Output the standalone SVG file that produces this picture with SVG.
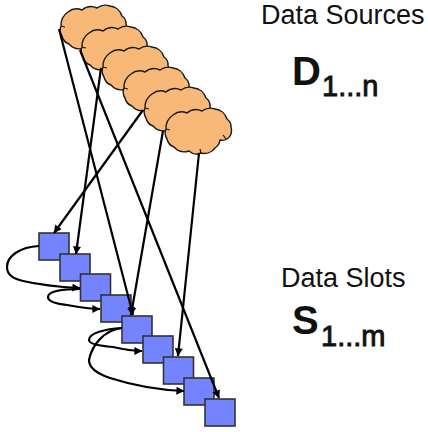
<svg xmlns="http://www.w3.org/2000/svg" width="428" height="432" viewBox="0 0 428 432">
<style>
.cloud{fill:#F8B878;stroke:#1a1a1a;stroke-width:1.4;stroke-linejoin:round}
.tick{fill:none;stroke:#1a1a1a;stroke-width:1.2}
.slot{fill:#7484FF;stroke:#333;stroke-width:1.6}
.c{fill:none;stroke:#000;stroke-width:2.2;marker-end:url(#a)}
text{font-family:"Liberation Sans",Arial,sans-serif;fill:#111}
.lab{font-size:27px}
.big{font-size:40px;font-weight:bold}
.sub{font-size:29px;stroke:#111;stroke-width:.9}
</style>
<defs>
<marker id="a" viewBox="0 0 10 10" refX="9.5" refY="5" markerWidth="9" markerHeight="8" markerUnits="userSpaceOnUse" orient="auto"><path d="M0 0L10 5L0 10Z" fill="#000"/></marker>
<g id="cl">
<path class="cloud" d="M1 21A16 16 0 0 1 8 7A14 14 0 0 1 22 5A14 14 0 0 1 37 3A14 14 0 0 1 50 1A14 14 0 0 1 62 11A9 9 0 0 1 66 19A10 10 0 0 1 62 31A9 9 0 0 1 55 32A11 11 0 0 1 50 40A13 13 0 0 1 36 45A11 11 0 0 1 24 43A14 14 0 0 1 9 39A11 11 0 0 1 2 31A11 11 0 0 1 1 21Z"/>
<path class="tick" d="M1 21L5 22M61 31L58 27M36 45L35 41"/>
</g>
<rect id="sq" width="30" height="27"/>
</defs>
<g id="cloud1"><use href="#cl" x="60" y="5"/></g>
<g id="cloud2"><use href="#cl" x="81" y="26"/></g>
<g id="cloud3"><use href="#cl" x="102" y="46"/></g>
<g id="cloud4"><use href="#cl" x="123" y="67"/></g>
<g id="cloud5"><use href="#cl" x="144" y="87"/></g>
<g id="cloud6"><use href="#cl" x="165" y="108"/></g>
<g id="slot1"><use href="#sq" class="slot" x="39" y="233"/></g>
<g id="slot2"><use href="#sq" class="slot" x="60" y="254"/></g>
<g id="slot3"><use href="#sq" class="slot" x="80.5" y="274"/></g>
<g id="slot4"><use href="#sq" class="slot" x="101" y="295"/></g>
<g id="slot5"><use href="#sq" class="slot" x="122" y="316"/></g>
<g id="slot6"><use href="#sq" class="slot" x="143" y="336"/></g>
<g id="slot7"><use href="#sq" class="slot" x="163.5" y="357"/></g>
<g id="slot8"><use href="#sq" class="slot" x="184" y="378"/></g>
<g id="slot9"><use href="#sq" class="slot" x="205" y="399"/></g>
<g id="connectors">
<path class="c" d="M59 29L133 315"/>
<path class="c" d="M80 50L219 398"/>
<path class="c" d="M101 68L76 254"/>
<path class="c" d="M143 110L54 233"/>
<path class="c" d="M163 131L131 315"/>
<path class="c" d="M199 153L178 356"/>
<path class="c" d="M39 246C20 247 7 256 7 267C7 276 15 279 23 281C40 285 60 287 80 288"/>
<path class="c" d="M80 289C64 289 48 291 48 297C48 302 58 304 67 305C78 307 90 309 100 309"/>
<path class="c" d="M122 328C105 329 89 333 89 340C89 344 100 346 113 347C122 349 132 351 142 351"/>
<path class="c" d="M122 328C104 330 92 345 89 360C89 369 98 374 110 378C135 386 160 390 184 391"/>
</g>
<g id="label-sources">
<text class="lab" x="261" y="23.5">Data Sources</text>
<text class="big" x="292" y="85">D</text>
<text class="sub" x="322" y="96">1...n</text>
</g>
<g id="label-slots">
<text class="lab" x="281" y="287">Data Slots</text>
<text class="big" x="292" y="334">S</text>
<text class="sub" x="321" y="346">1...m</text>
</g>
</svg>
